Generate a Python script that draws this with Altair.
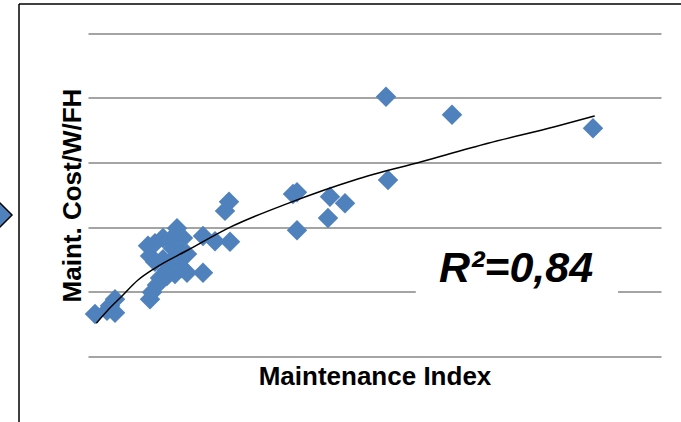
import altair as alt
import pandas as pd

# ---- data ----
maint_index = [1.22, 3.32, 3.84, 4.71, 4.71,
               10.47, 10.82, 11.69, 13.09, 14.31, 15.53, 16.58, 14.83, 16.06,
               11.69, 13.09, 14.31, 17.28, 15.18, 13.79, 16.40, 12.57, 13.79,
               15.18, 17.28, 12.04, 11.17, 10.82, 20.07, 20.07, 22.16, 24.78,
               23.91, 24.61, 35.78, 36.47, 36.47, 42.23, 44.85, 41.88, 52.01,
               52.36, 63.53, 88.13]
maint_cost = [0.65, 0.70, 0.78, 0.88, 0.67,
              1.71, 1.55, 1.75, 1.83, 1.80, 1.98, 1.83, 1.67, 1.61,
              1.46, 1.50, 1.46, 1.58, 1.41, 1.33, 1.36, 1.21, 1.24,
              1.27, 1.29, 1.10, 0.99, 0.88, 1.29, 1.86, 1.78, 1.77,
              2.25, 2.39, 2.51, 2.54, 1.95, 2.47, 2.37, 2.14, 4.02,
              2.73, 3.74, 3.53]
# power trendline
trend_index = [1.45, 3.49, 5.81, 8.73, 11.64, 17.45, 25.01, 34.90,
               46.54, 58.17, 69.81, 81.45, 88.43]
trend_cost = [0.507, 0.713, 0.919, 1.178, 1.360, 1.643, 2.005, 2.367,
              2.729, 3.012, 3.298, 3.555, 3.721]
grid_values = [0, 1, 2, 3, 4, 5]
x_title = "Maintenance Index"
y_title = "Maint. Cost/W/FH"
r2_label = "R²=0,84"

# annotation placement (data units)
label_box = {"x0": [57.2], "x1": [92.5], "y0": [0.62], "y1": [1.72],
             "tx": [74.7], "ty": [1.15], "label": [r2_label]}

FONT = "Liberation Sans"
BLUE = "#4F81BD"
W, H = 573, 322.5
PAD = {"left": 88, "top": 33.5, "right": 20, "bottom": 66}

df = pd.DataFrame({"index": maint_index, "cost": maint_cost})
tr = pd.DataFrame({"index": trend_index, "cost": trend_cost})
lab = pd.DataFrame(label_box)
one = pd.DataFrame({"a": [0]})

xs = alt.Scale(domain=[0, 100], nice=False, zero=False)
ys = alt.Scale(domain=[0, 5], nice=False, zero=False)

x_axis = alt.Axis(
    title=x_title, labels=False, ticks=False, domain=False, grid=False,
    titleFont=FONT, titleFontSize=26, titleFontWeight="bold", titleColor="black",
    titleY=28, titleBaseline="alphabetic")
y_axis = alt.Axis(
    title=y_title, values=grid_values, labels=False, ticks=False, domain=False,
    grid=True, gridColor="#868686", gridWidth=1.5,
    titleFont=FONT, titleFontSize=26, titleFontWeight="bold", titleColor="black",
    titleAngle=-90, titleX=-8, titleY=161.5, titleAlign="center",
    titleBaseline="alphabetic")

points = alt.Chart(df).mark_point(
    shape="diamond", filled=True, size=420, color=BLUE, opacity=1
).encode(
    x=alt.X("index:Q", scale=xs, axis=x_axis, title=x_title),
    y=alt.Y("cost:Q", scale=ys, axis=y_axis, title=y_title),
)

trend = alt.Chart(tr).mark_line(
    color="black", strokeWidth=1.5, interpolate="monotone"
).encode(
    x=alt.X("index:Q", scale=xs, title=x_title),
    y=alt.Y("cost:Q", scale=ys, title=y_title),
)

box = alt.Chart(lab).mark_rect(color="white").encode(
    x=alt.X("x0:Q", scale=xs, title=x_title), x2="x1",
    y=alt.Y("y0:Q", scale=ys, title=y_title), y2="y1",
)

text = alt.Chart(lab).mark_text(
    font=FONT, fontSize=43, fontWeight="bold", fontStyle="italic",
    align="center", baseline="alphabetic", color="black"
).encode(
    x=alt.X("tx:Q", scale=xs, title=x_title),
    y=alt.Y("ty:Q", scale=ys, title=y_title),
    text="label:N",
)

border_left = alt.Chart(one).mark_rule(color="black", strokeWidth=1.5).encode(
    x=alt.value(-69), y=alt.value(-29.5), y2=alt.value(400))
border_top = alt.Chart(one).mark_rule(color="black", strokeWidth=1.5).encode(
    x=alt.value(-69), x2=alt.value(620), y=alt.value(-29.5))
arrow = alt.Chart(one).mark_point(
    shape="diamond", filled=True, size=1156, fill=BLUE, stroke="black",
    strokeWidth=1.5, opacity=1
).encode(x=alt.value(-93), y=alt.value(181.5))

chart = alt.layer(
    points, box, trend, text, border_left, border_top, arrow
).properties(
    width=W, height=H, padding=PAD,
    autosize=alt.AutoSizeParams(type="none"),
    background="white",
).configure_view(stroke=None)

chart.save("out.html", embed_options={"renderer": "svg", "actions": False})
